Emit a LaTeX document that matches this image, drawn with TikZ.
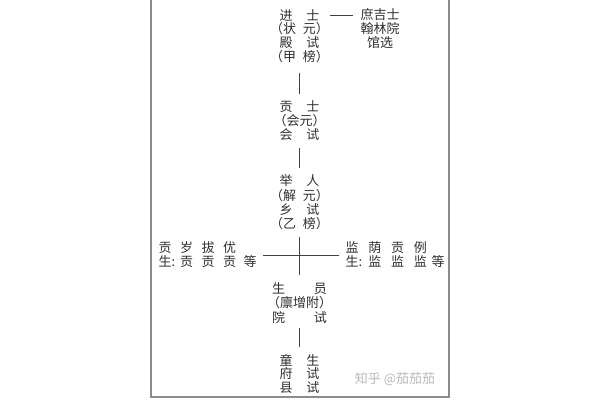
\documentclass[tikz,border=0pt]{standalone}
\usepackage{fontspec}
\newfontfamily\cjk{Noto Sans CJK SC}
\begin{document}
\begin{tikzpicture}[x=1pt,y=-1pt,
  txt/.style={font=\cjk\fontsize{13}{14}\selectfont, text=black!82, inner sep=0pt},
  blk/.style={txt, align=left, anchor=west},
  conn/.style={draw=black!75, line width=0.9pt},
  frame/.style={draw=black!45, line width=1.1pt}]
\useasboundingbox (0,0) rectangle (600,400);
\draw[frame] (151,0) -- (151,397) -- (449,397) -- (449,0);
% top block
\node[txt] (js1) at (299.5,15) {进\hspace{14pt}士};
\node[txt] (js2) at (299.5,29) {（状\hspace{7pt}元）};
\node[txt] (js3) at (299.5,43) {殿\hspace{14pt}试};
\node[txt] (js4) at (299.5,57) {（甲\hspace{7pt}榜）};
\node[txt] (sj1) at (380,15) {庶吉士};
\node[txt] (sj2) at (380,29) {翰林院};
\node[txt] (sj3) at (380,43) {馆选};
% gongshi
\node[txt] (gs1) at (299.5,107) {贡\hspace{14pt}士};
\node[txt] (gs2) at (299.5,121) {（会元）};
\node[txt] (gs3) at (299.5,135) {会\hspace{14pt}试};
% juren
\node[txt] (jr1) at (299.5,181) {举\hspace{14pt}人};
\node[txt] (jr2) at (299.5,196) {（解\hspace{7pt}元）};
\node[txt] (jr3) at (299.5,210) {乡\hspace{14pt}试};
\node[txt] (jr4) at (299.5,224) {（乙\hspace{7pt}榜）};
% side blocks
\node[blk] (lb) at (154.25,255) {\makebox[21.5pt]{贡}\makebox[21.5pt]{岁}\makebox[21.5pt]{拔}\makebox[21.5pt]{优}\\
\makebox[21.5pt][l]{\hspace{4.25pt}生:}\makebox[21.5pt]{贡}\makebox[21.5pt]{贡}\makebox[21.5pt]{贡}\makebox[19.5pt]{等}};
\node[blk] (rb) at (340.65,255) {\makebox[22.7pt]{监}\makebox[22.7pt]{荫}\makebox[22.7pt]{贡}\makebox[22.7pt]{例}\\
\makebox[22.7pt][l]{\hspace{4.85pt}生:}\makebox[22.7pt]{监}\makebox[22.7pt]{监}\makebox[22.7pt]{监}\makebox[13pt]{等}};
% shengyuan
\node[txt] (sy1) at (299.5,289) {生\hspace{29pt}员};
\node[txt] (sy2) at (299.5,303) {（廪增附）};
\node[txt] (sy3) at (299.5,317) {院\hspace{29pt}试};
% tongsheng
\node[txt] (ts1) at (299.5,360) {童\hspace{14pt}生};
\node[txt] (ts2) at (299.5,374) {府\hspace{14pt}试};
\node[txt] (ts3) at (299.5,388) {县\hspace{14pt}试};
% connectors
\draw[conn, shorten <=30.5pt, shorten >=27pt] (js1.center) -- (sj1.center);
\draw[conn, shorten <=16pt, shorten >=13pt] (js4.center) -- (gs1.center);
\draw[conn, shorten <=13pt, shorten >=13pt] (gs3.center) -- (jr1.center);
\draw[conn, shorten <=13pt, shorten >=14pt] (jr4.center) -- (sy1.center);
\draw[conn, shorten <=3.25pt, shorten >=1.65pt] (lb.east) -- (rb.west);
\draw[conn, shorten <=11pt, shorten >=13pt] (sy3.center) -- (ts1.center);
% watermark
\node[font=\cjk\fontsize{13}{13}\selectfont, text=black!28, inner sep=0pt] (wm) at (395,379) {知乎 @茄茄茄};
\end{tikzpicture}
\end{document}
